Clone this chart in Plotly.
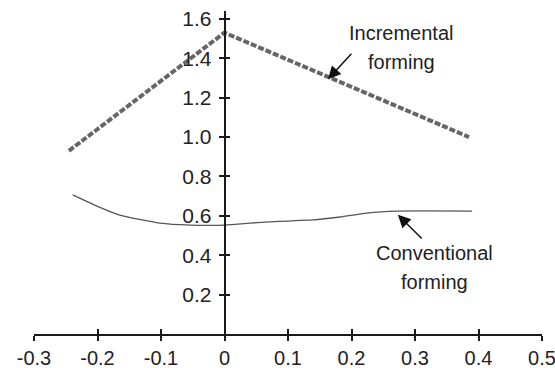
import plotly.graph_objects as go

# Incremental forming (dashed, straight segments)
inc_x = [-0.245, 0.0, 0.385]
inc_y = [0.93, 1.53, 1.0]

# Conventional forming (thin solid curve)
conv_x = [-0.239, -0.20, -0.165, -0.102, -0.054, 0.0, 0.04, 0.087, 0.139, 0.182, 0.224, 0.272, 0.39]
conv_y = [0.706, 0.648, 0.604, 0.563, 0.553, 0.553, 0.563, 0.572, 0.579, 0.594, 0.614, 0.624, 0.624]

x_ticks = [-0.3, -0.2, -0.1, 0.0, 0.1, 0.2, 0.3, 0.4, 0.5]
x_labels = ["-0.3", "-0.2", "-0.1", "0", "0.1", "0.2", "0.3", "0.4", "0.5"]
y_ticks = [0.2, 0.4, 0.6, 0.8, 1.0, 1.2, 1.4, 1.6]
y_labels = ["0.2", "0.4", "0.6", "0.8", "1.0", "1.2", "1.4", "1.6"]

X_RANGE = [-0.3, 0.5]
Y_RANGE = [0, 1.64]
FONT = "Liberation Sans, Arial, sans-serif"
FS = 21
AX = "#1a1a1a"

fig = go.Figure()
fig.add_trace(go.Scatter(
    x=inc_x, y=inc_y, mode="lines",
    line=dict(color="#666666", width=4, dash="6px,2px"),
    showlegend=False, hoverinfo="skip",
))
fig.add_trace(go.Scatter(
    x=conv_x, y=conv_y, mode="lines",
    line=dict(color="#555555", width=1.3, shape="spline", smoothing=0.6),
    showlegend=False, hoverinfo="skip",
))

# y-axis crosses at x = 0
ypos = (0 - X_RANGE[0]) / (X_RANGE[1] - X_RANGE[0])

axis_common = dict(showgrid=False, zeroline=False, showline=True, automargin=False,
                   linecolor=AX, linewidth=1.5, tickcolor=AX, tickwidth=1.5, ticklen=5)

fig.update_layout(
    width=555, height=368,
    margin=dict(l=34, r=13, t=11, b=34, autoexpand=False),
    paper_bgcolor="white", plot_bgcolor="white",
    font=dict(family=FONT, size=FS, color="#222222"),
    xaxis=dict(range=X_RANGE, tickvals=x_ticks, ticktext=x_labels, ticks="outside",
               tickfont=dict(size=FS - 1), ticklabelstandoff=0, ticklabeloverflow="allow",
               **axis_common),
    xaxis2=dict(range=X_RANGE, tickvals=x_ticks, ticks="inside", showticklabels=False,
                overlaying="x", anchor="y", side="bottom", **axis_common),
    yaxis=dict(range=Y_RANGE, tickvals=y_ticks, ticktext=y_labels, ticks="outside",
               anchor="free", position=ypos, tickfont=dict(size=FS), ticklabelstandoff=3,
               ticklabeloverflow="allow", **axis_common),
    yaxis2=dict(range=Y_RANGE, tickvals=y_ticks, ticks="inside", showticklabels=False,
                overlaying="y", anchor="free", position=ypos, **axis_common),
)

# invisible trace to activate the secondary tick axes
fig.add_trace(go.Scatter(x=[X_RANGE[0]], y=[Y_RANGE[0]], xaxis="x2", yaxis="y2",
                         mode="markers", marker=dict(opacity=0), showlegend=False,
                         hoverinfo="skip"))

# labels
for txt, x, y in [("Incremental", 0.278, 1.528), ("forming", 0.278, 1.381),
                  ("Conventional", 0.331, 0.411), ("forming", 0.331, 0.264)]:
    fig.add_annotation(x=x, y=y, text=txt, showarrow=False,
                       font=dict(family=FONT, size=FS - 1, color="#222222"))

# arrows
for tip, tail in [((0.163, 1.294), (0.202, 1.431)), ((0.273, 0.605), (0.313, 0.477))]:
    fig.add_annotation(x=tip[0], y=tip[1], ax=tail[0], ay=tail[1],
                       xref="x", yref="y", axref="x", ayref="y",
                       text="", showarrow=True, arrowhead=2, arrowsize=1.7,
                       arrowwidth=1.5, arrowcolor="#111111")

fig.write_html("out.html")
